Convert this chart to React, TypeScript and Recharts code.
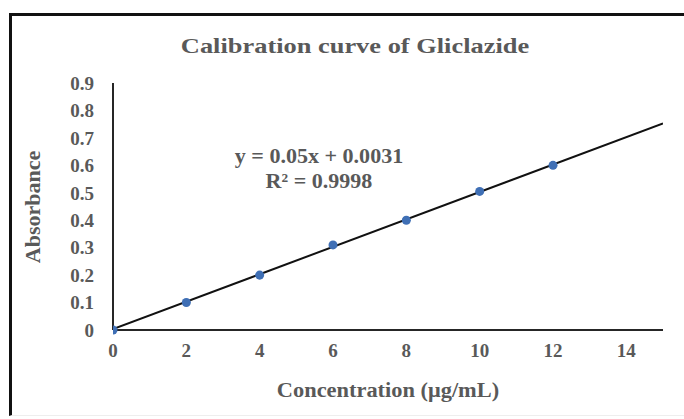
import React from 'react';
import { ComposedChart, Scatter, Line, XAxis, YAxis } from 'recharts';

// measured concentrations (µg/mL) and absorbances
const CONC = [0, 2, 4, 6, 8, 10, 12];
const ABS = [0, 0.1, 0.2, 0.31, 0.4, 0.505, 0.6];

// linear fit shown on the chart
const SLOPE = 0.05;
const INTERCEPT = 0.0031;
const TREND_X = [0, 15];

const X_TICKS = [0, 2, 4, 6, 8, 10, 12, 14];
const Y_TICKS = [0, 0.1, 0.2, 0.3, 0.4, 0.5, 0.6, 0.7, 0.8, 0.9];

const points = CONC.map((x, i) => ({ x, y: ABS[i] }));
const trend = TREND_X.map((x) => ({ x, y: SLOPE * x + INTERCEPT }));

const FONT = '"Liberation Serif", "Times New Roman", serif';
const TEXT = '#595959';

const tickStyle = { fontFamily: FONT, fontWeight: 700, fontSize: 19, fill: TEXT };

// centred text block, a bit stretched sideways like the source image
function Caption({ x, y, size, sx, rotate, children }: any) {
  return (
    <div
      style={{
        position: 'absolute',
        left: x,
        top: y,
        transform: `translate(-50%, -50%) ${rotate ? 'rotate(-90deg) ' : ''}scaleX(${sx})`,
        fontSize: size,
        fontWeight: 700,
        color: TEXT,
        whiteSpace: 'nowrap',
        textAlign: 'center',
        lineHeight: '25px',
      }}
    >
      {children}
    </div>
  );
}

export default function App() {
  return (
    <div
      style={{
        position: 'absolute',
        left: 9,
        top: 13,
        width: 675,
        height: 403,
        boxSizing: 'border-box',
        borderLeft: '3px solid #111',
        borderTop: '3px solid #111',
        borderBottom: '1px solid #eee',
        background: '#fff',
        fontFamily: FONT,
      }}
    >
      <ComposedChart
        width={672}
        height={400}
        margin={{ top: 67, right: 21, bottom: 56, left: 11 }}
        style={{ position: 'absolute', left: 0, top: 0 }}
      >
        <XAxis
          type="number"
          dataKey="x"
          domain={[0, 15]}
          ticks={X_TICKS}
          allowDataOverflow
          tickLine={false}
          axisLine={{ stroke: '#262626', strokeWidth: 2 }}
          tick={tickStyle}
          tickMargin={8}
          height={30}
        />
        <YAxis
          type="number"
          dataKey="y"
          domain={[0, 0.9]}
          ticks={Y_TICKS}
          tickLine={false}
          axisLine={{ stroke: '#262626', strokeWidth: 2 }}
          tick={tickStyle}
          tickMargin={13}
          width={90}
        />
        <Line
          data={trend}
          dataKey="y"
          type="linear"
          stroke="#111"
          strokeWidth={2}
          dot={false}
          isAnimationActive={false}
        />
        <Scatter data={points} dataKey="y" fill="#3f6fb5" isAnimationActive={false} shape="circle" />
      </ComposedChart>
      <Caption x={343} y={29} size={22} sx={1.2}>
        Calibration curve of Gliclazide
      </Caption>
      <Caption x={307} y={153} size={21} sx={1.05}>
        y = 0.05x + 0.0031
        <br />
        R² = 0.9998
      </Caption>
      <Caption x={376} y={374} size={20} sx={1.12}>
        Concentration (μg/mL)
      </Caption>
      <Caption x={21} y={191} size={20} sx={1.1} rotate>
        Absorbance
      </Caption>
    </div>
  );
}
